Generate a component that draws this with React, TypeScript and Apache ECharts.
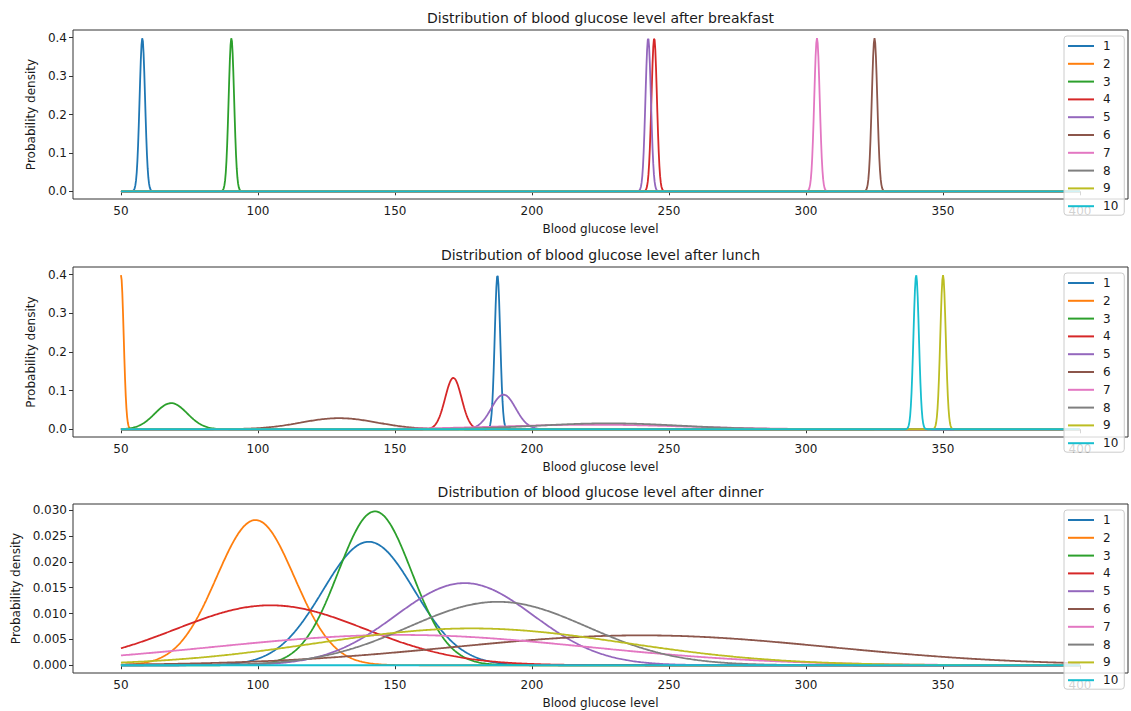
import React, { useEffect, useRef } from "react";
import * as echarts from "echarts";

// ---- Data ----
const SERIES_NAMES = ["1", "2", "3", "4", "5", "6", "7", "8", "9", "10"];
const COLORS = ["#1f77b4", "#ff7f0e", "#2ca02c", "#d62728", "#9467bd", "#8c564b", "#e377c2", "#7f7f7f", "#bcbd22", "#17becf"];

// Normal distribution parameters (mean, standard deviation) per patient; null = no peak in range (flat at 0)
const BREAKFAST_MEANS = [57.8, null, 90.3, 244.6, 242.4, 325.0, 304.0, null, null, null];
const BREAKFAST_SDS = [1, null, 1, 1, 1, 1, 1, null, null, null];

const LUNCH_MEANS = [187.4, 50.0, 68.3, 171.3, 189.6, 129.6, 222.0, 228.0, 350.0, 340.2];
const LUNCH_SDS = [1, 1, 5.9, 3.0, 4.45, 13.9, 34, 26, 1, 1];

const DINNER_MEANS = [140.4, 99.1, 142.7, 104.6, 175.4, 240.0, 152.0, 187.6, 178.0, null];
const DINNER_SDS = [16.7, 14.2, 13.4, 34.4, 25.1, 69, 68, 32.5, 56, null];

const X_RANGE = [50, 400];
const X_TICKS = [50, 100, 150, 200, 250, 300, 350, 400];
const Y_TICKS_TOP = [0, 0.1, 0.2, 0.3, 0.4];
const Y_TICKS_DINNER = [0, 0.005, 0.01, 0.015, 0.02, 0.025, 0.03];

const TITLES = [
  "Distribution of blood glucose level after breakfast",
  "Distribution of blood glucose level after lunch",
  "Distribution of blood glucose level after dinner",
];
const X_LABEL = "Blood glucose level";
const Y_LABEL = "Probability density";

const STEP = 0.25;
const FONT = "DejaVu Sans";
const TXT = "#1a1a1a";

function normalSeries(means: (number | null)[], sds: (number | null)[], idx: number) {
  return SERIES_NAMES.map((name, i) => {
    const m = means[i];
    const s = sds[i];
    const data: number[][] = [];
    const n = Math.round((X_RANGE[1] - X_RANGE[0]) / STEP);
    for (let k = 0; k <= n; k++) {
      const x = X_RANGE[0] + k * STEP;
      let y = 0;
      if (m != null && s != null) {
        const z = (x - m) / s;
        y = Math.exp(-0.5 * z * z) / (s * Math.sqrt(2 * Math.PI));
      }
      data.push([x, y]);
    }
    return {
      type: "line",
      name,
      xAxisIndex: idx,
      yAxisIndex: idx,
      data,
      symbol: "none",
      showSymbol: false,
      lineStyle: { width: 1.8, color: COLORS[i] },
      itemStyle: { color: COLORS[i] },
      emphasis: { disabled: true },
      animation: false,
      z: 3,
    };
  });
}

const GRID_LEFT = 73;
const GRID_WIDTH = 1055;
const GRIDS = [
  { top: 30, height: 169 },
  { top: 267, height: 170 },
  { top: 504, height: 169 },
];

export default function App() {
  const ref = useRef<HTMLDivElement>(null);
  useEffect(() => {
    if (!ref.current) return;
    const chart = echarts.init(ref.current, undefined, { renderer: "svg" });

    const grid = GRIDS.map((g) => ({
      left: GRID_LEFT,
      top: g.top,
      width: GRID_WIDTH,
      height: g.height,
      show: true,
      borderColor: "#333",
      borderWidth: 1,
      backgroundColor: "transparent",
    }));

    const xAxis = GRIDS.map((_, i) => ({
      type: "value",
      gridIndex: i,
      min: 32.5,
      max: 417.5,
      name: X_LABEL,
      nameLocation: "middle",
      nameGap: 24,
      nameTextStyle: { fontFamily: FONT, fontSize: 12, color: TXT },
      axisLine: { show: false },
      axisTick: { show: true, length: 4, customValues: X_TICKS, lineStyle: { color: "#333" } },
      axisLabel: {
        customValues: X_TICKS,
        margin: 6,
        fontFamily: FONT,
        fontSize: 12,
        color: TXT,
        formatter: (v: number) => String(v),
      },
      splitLine: { show: false },
    }));

    const yAxis = GRIDS.map((_, i) => {
      const dinner = i === 2;
      const ticks = dinner ? Y_TICKS_DINNER : Y_TICKS_TOP;
      return {
        type: "value",
        gridIndex: i,
        min: dinner ? -0.0015 : -0.02,
        max: dinner ? 0.0312 : 0.42,
        name: Y_LABEL,
        nameLocation: "middle",
        nameGap: dinner ? 46 : 30,
        nameTextStyle: { fontFamily: FONT, fontSize: 12, color: TXT },
        axisLine: { show: false },
        axisTick: { show: true, length: 4, customValues: ticks, lineStyle: { color: "#333" } },
        axisLabel: {
          customValues: ticks,
          margin: 6,
          fontFamily: FONT,
          fontSize: 12,
          color: TXT,
          formatter: (v: number) => v.toFixed(dinner ? 3 : 1),
        },
        splitLine: { show: false },
      };
    });

    const title = GRIDS.map((g, i) => ({
      text: TITLES[i],
      left: GRID_LEFT + GRID_WIDTH / 2,
      textAlign: "center",
      top: g.top - 19,
      padding: 0,
      textStyle: { fontFamily: FONT, fontSize: 14, fontWeight: "normal", color: TXT },
    }));

    const legend = GRIDS.map((g) => ({
      orient: "vertical",
      left: 1064,
      top: g.top + 6,
      padding: [4, 6, 3, 4],
      itemWidth: 26,
      itemHeight: 2,
      itemGap: 5.8,
      icon: "rect",
      backgroundColor: "rgba(255,255,255,0.8)",
      borderColor: "#cccccc",
      borderWidth: 1,
      borderRadius: 3,
      selectedMode: false,
      z: 6,
      data: SERIES_NAMES.map((n) => ({ name: n })),
      textStyle: { fontFamily: FONT, fontSize: 12, color: TXT, padding: [0, 0, 0, 4] },
    }));

    const series = [
      ...normalSeries(BREAKFAST_MEANS, BREAKFAST_SDS, 0),
      ...normalSeries(LUNCH_MEANS, LUNCH_SDS, 1),
      ...normalSeries(DINNER_MEANS, DINNER_SDS, 2),
    ];

    chart.setOption({
      animation: false,
      backgroundColor: "#ffffff",
      title,
      grid,
      xAxis,
      yAxis,
      legend,
      series,
    });
    return () => chart.dispose();
  }, []);
  return (
    <div
      ref={ref}
      style={{ position: "absolute", left: 0, top: 0, width: 1131, height: 711 }}
    />
  );
}
